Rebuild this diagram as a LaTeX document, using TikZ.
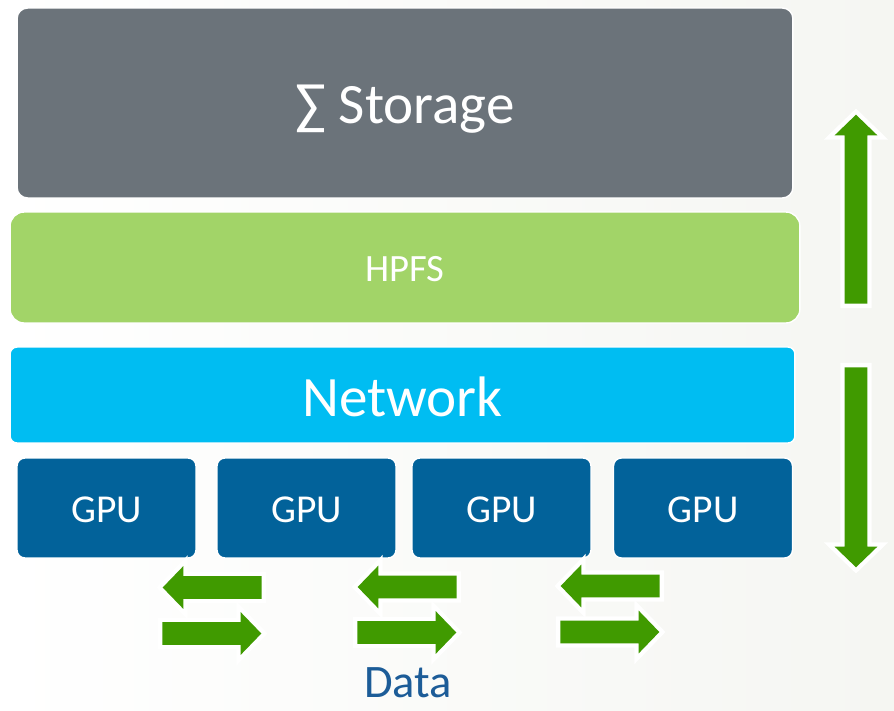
\documentclass[tikz,border=0pt]{standalone}
\usepackage{fontspec}
\setmainfont{Carlito}
\usepackage{xcolor}
\usepackage{tikz}
\usetikzlibrary{shapes.arrows}

\definecolor{storagegray}{HTML}{6B737A}
\definecolor{hpfsgreen}{HTML}{A2D468}
\definecolor{netblue}{HTML}{00BDF2}
\definecolor{gpublue}{HTML}{02629A}
\definecolor{arrowgreen}{HTML}{409A00}
\definecolor{datablue}{HTML}{1C5C98}
\definecolor{paper}{HTML}{F5F6F2}

\tikzset{
  layer/.style={draw=white, line width=0.8pt, text=white, inner sep=0pt, text depth=0pt},
  gpubox/.style={layer, fill=gpublue, rounded corners=4.5pt,
    minimum width=3.58cm, minimum height=2cm, font=\fontsize{22.5}{27}\selectfont,
    text height=16.2pt},
  flow/.style={single arrow, fill=arrowgreen, anchor=tail,
    preaction={draw=white, line width=5pt, line join=miter},
    inner sep=0.22cm, single arrow head extend=0.2cm,
    single arrow tip angle=92}
}

\begin{document}
\begin{tikzpicture}[x=0.02cm, y=-0.02cm]
    \useasboundingbox (0,0) rectangle (894,711);
    \shade[left color=white, middle color=white, right color=paper] (0,0) rectangle (894,711);

    % Storage layer
    \node[layer, fill=storagegray, rounded corners=6pt, minimum width=15.52cm, minimum height=3.8cm,
      font=\fontsize{32.5}{39}\selectfont, text height=22.8pt] (storage) at (405,103) {∑ Storage};

    % HPFS layer
    \node[layer, fill=hpfsgreen, rounded corners=8pt, minimum width=15.8cm, minimum height=2.22cm,
      font=\fontsize{22}{26}\selectfont, text height=15.6pt] (hpfs) at (405,267.5) {HPFS};

    % Network layer
    \node[layer, fill=netblue, rounded corners=4pt, minimum width=15.7cm, minimum height=1.92cm,
      font=\fontsize{32.5}{39}\selectfont, text height=24.8pt] (network) at (402.5,395) {Network};

    % GPUs
    \node[gpubox] (gpuA) at (106.5,508) {GPU};
    \node[gpubox] (gpuB) at (306.5,508) {GPU};
    \node[gpubox] (gpuC) at (501.5,508) {GPU};
    \node[gpubox] (gpuD) at (703,508) {GPU};

    % Data exchange between GPUs (placed by their tails)
    \node[flow, minimum height=1.98cm, shape border rotate=180] (backAB) at (262,587.5) {};
    \node[flow, minimum height=1.98cm] (fwdAB) at (162,633.5) {};
    \node[flow, minimum height=1.98cm, shape border rotate=180] (backBC) at (457,587) {};
    \node[flow, minimum height=1.98cm] (fwdBC) at (357,632.5) {};
    \node[flow, minimum height=1.98cm, shape border rotate=180] (backCD) at (660,586) {};
    \node[flow, minimum height=1.98cm] (fwdCD) at (560,632) {};

    % Up and down the stack
    \node[flow, minimum height=3.78cm, shape border rotate=90] (up) at (856,304) {};
    \node[flow, minimum height=4cm, shape border rotate=270] (down) at (856,367) {};

    \node[text=datablue, inner sep=0pt, font=\fontsize{26.5}{31}\selectfont] (data) at (408,683) {Data};
  \end{tikzpicture}
\end{document}
